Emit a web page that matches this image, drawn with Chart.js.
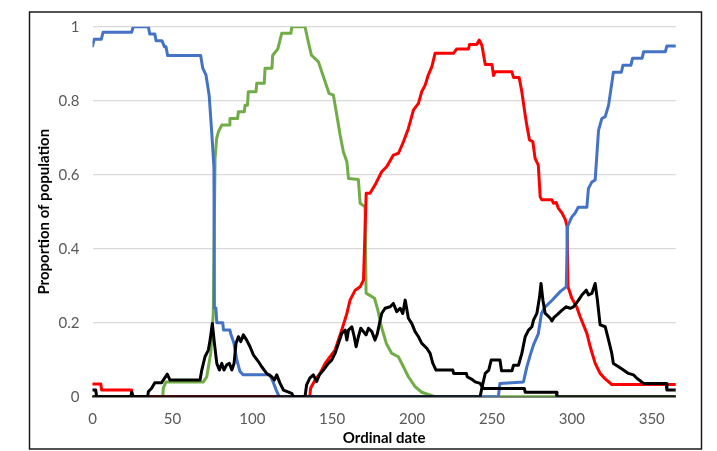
<!DOCTYPE html>
<html>
<head>
<meta charset="utf-8">
<script src="https://cdn.jsdelivr.net/npm/chart.js@4"></script>
<style>
    body { margin: 0; background: #fff; }
    #chart { display: block; }
</style>
</head>
<body>
<canvas id="chart" width="717" height="451"></canvas>
<script>
// Ordinal date (day of year) and proportion of population
const xTicks = [0, 50, 100, 150, 200, 250, 300, 350];
const yTicks = [0, 0.2, 0.4, 0.6, 0.8, 1];

const blueDays = [0, 1, 5.5, 6.6, 24.5, 25.5, 35, 35.8, 39, 39.8, 43.5, 45, 46, 47, 67.7, 69, 71, 73, 74.6, 76,
    76.3, 77.2, 77.8, 81.5, 82, 86, 86.5, 88.5, 90.3, 92.3, 94.4, 111, 113, 115, 116.8, 254, 255, 269.7, 271.8,
    274, 276, 279, 281, 283.3, 287.5, 292.7, 296.5, 297.3, 300, 302, 304, 309.4, 310.4, 312.5, 314.6, 316.7,
    318.8, 320.9, 323, 326, 331, 332, 337, 338, 344, 344.9, 358.5, 359.5, 365];
const blueValues = [0.948, 0.966, 0.966, 0.985, 0.985, 1, 1, 0.98, 0.98, 0.962, 0.962, 0.946, 0.946, 0.922, 0.922, 0.888, 0.87, 0.815, 0.716, 0.62,
    0.24, 0.24, 0.2, 0.2, 0.18, 0.18, 0.17, 0.145, 0.1, 0.068, 0.059, 0.059, 0.04, 0.018, 0, 0, 0.036, 0.04, 0.08,
    0.113, 0.14, 0.17, 0.225, 0.243, 0.26, 0.284, 0.297, 0.46, 0.486, 0.496, 0.512, 0.512, 0.563, 0.58, 0.586, 0.72,
    0.752, 0.757, 0.788, 0.877, 0.877, 0.896, 0.896, 0.915, 0.915, 0.932, 0.932, 0.948, 0.948];

const greenDays = [0, 44, 44.3, 46, 69.4, 71.5, 74, 75.6, 76.7, 77.7, 78.8, 80.9, 85.5, 86, 90.8, 91.3, 95, 95.5, 97, 97.5,
    102.3, 102.8, 107.5, 108, 112.3, 112.8, 116, 118.4, 124.2, 124.7, 133, 135, 137, 141.4, 143.5, 145.6, 148, 150.8,
    152.9, 155, 157, 159.2, 160.2, 166.4, 167.5, 170.6, 171.2, 176.5, 178.6, 180.8, 183.9, 187.3, 191.4, 194.6, 197.7,
    201.9, 206, 214.4, 365];
const greenValues = [0, 0, 0.023, 0.04, 0.04, 0.054, 0.118, 0.226, 0.644, 0.698, 0.716, 0.734, 0.734, 0.752, 0.752, 0.77, 0.77, 0.788, 0.788, 0.824,
    0.824, 0.847, 0.847, 0.888, 0.888, 0.923, 0.94, 0.982, 0.982, 1, 1, 0.96, 0.923, 0.905, 0.878, 0.851, 0.82, 0.815,
    0.761, 0.707, 0.662, 0.635, 0.59, 0.587, 0.523, 0.513, 0.28, 0.266, 0.234, 0.189, 0.144, 0.117, 0.108, 0.081, 0.054,
    0.027, 0.012, 0, 0];

const redDays = [0, 5.2, 5.7, 24.5, 25, 136, 136.5, 139.3, 142.4, 145.6, 148.7, 151.8, 153.9, 156, 159.2, 161.2, 164.4,
    167.5, 169.6, 171.3, 173.7, 176.8, 181, 184.2, 188.3, 191.5, 194.6, 197.7, 200.9, 204, 206, 208.2, 210.2, 212.4,
    214.4, 225.9, 228, 235.3, 236, 240.5, 242, 243.7, 245.8, 250, 251, 252, 262.5, 263.5, 267, 268.7, 270.8, 271.8,
    273.5, 275.6, 277, 279, 280.2, 281.2, 287.5, 288.5, 290.2, 291.6, 293.9, 296, 297, 297.6, 300, 303, 305.2, 309.4,
    311.5, 314.6, 317.7, 320.9, 325, 365];
const redValues = [0.034, 0.034, 0.018, 0.018, 0, 0, 0.023, 0.045, 0.063, 0.09, 0.108, 0.126, 0.153, 0.18, 0.225, 0.261, 0.288,
    0.297, 0.315, 0.55, 0.55, 0.572, 0.608, 0.622, 0.653, 0.658, 0.689, 0.725, 0.775, 0.793, 0.824, 0.842, 0.87, 0.892,
    0.928, 0.928, 0.94, 0.94, 0.952, 0.952, 0.964, 0.95, 0.898, 0.898, 0.868, 0.878, 0.878, 0.863, 0.863, 0.824, 0.761, 0.734,
    0.694, 0.689, 0.644, 0.626, 0.54, 0.532, 0.532, 0.523, 0.525, 0.509, 0.496, 0.478, 0.46, 0.297, 0.266, 0.243, 0.216, 0.171,
    0.135, 0.09, 0.063, 0.048, 0.033, 0.033];

// first black series (spring and summer peaks, then the tail into autumn)
const blackADays = [0, 24, 24.5, 25.5, 34.5, 35, 37, 39, 43.3, 44.3, 46.8, 48.5, 67.3, 68.4, 70.4, 72.5, 73.6, 75, 76.3, 77.8,
    79.4, 80.9, 82.3, 84, 85.7, 87.2, 88.6, 89.8, 91.3, 92.8, 94.4, 96.5, 98.6, 100.7, 103.8, 105.9, 109, 112.2, 113.8,
    115.3, 117.4, 119.5, 124.7, 125.7, 133, 134, 136, 138.2, 140.3, 142, 144.5, 147.6, 149.7, 151.8, 153.9, 156, 158.1,
    159.2, 160.2, 162.3, 163.8, 165, 166.4, 167.9, 169.6, 171.2, 172.7, 174.8, 176.8, 178.3, 179.6, 181, 183.1, 186.3,
    188.3, 190.4, 192.5, 194.2, 195.7, 197.7, 199.8, 201.9, 204, 206.1, 209.2, 211.3, 213, 215, 225.5, 226, 234, 234.5,
    237.5, 239.5, 242.6, 244.7, 270.3, 270.8, 290.2, 290.7, 365];
const blackAValues = [0, 0, 0.012, 0, 0, 0.014, 0.023, 0.038, 0.038, 0.045, 0.061, 0.045, 0.045, 0.072, 0.108, 0.126, 0.153, 0.198, 0.144, 0.09,
    0.072, 0.09, 0.072, 0.086, 0.09, 0.072, 0.09, 0.144, 0.162, 0.149, 0.167, 0.153, 0.135, 0.113, 0.095, 0.081, 0.063, 0.054, 0.045,
    0.059, 0.036, 0.018, 0.009, 0, 0, 0.032, 0.05, 0.059, 0.041, 0.059, 0.072, 0.09, 0.099, 0.117, 0.144, 0.171, 0.18,
    0.153, 0.18, 0.189, 0.162, 0.135, 0.162, 0.185, 0.176, 0.167, 0.185, 0.176, 0.153, 0.171, 0.198, 0.225, 0.239, 0.243,
    0.252, 0.23, 0.239, 0.225, 0.261, 0.212, 0.198, 0.176, 0.162, 0.144, 0.131, 0.117, 0.09, 0.072, 0.072, 0.063, 0.063, 0.054,
    0.047, 0.04, 0.036, 0.022, 0.022, 0.012, 0.012, 0, 0];

// second black series (autumn peak, wrapping round the start of the year)
const blackBDays = [0, 2, 2.6, 242.6, 244, 245.8, 248, 249.5, 255, 256, 262.5, 263.5, 266.6, 268.7, 270.8, 272.9, 275, 276,
    278.1, 279.8, 280.7, 281.9, 283.3, 284.4, 286.5, 287.5, 289, 290.7, 293.9, 296.5, 299, 301, 304.2, 306.3, 309, 310.4,
    312.5, 314.6, 316, 317.7, 320.9, 323, 325, 326, 329.2, 332.3, 335.4, 338.6, 340.7, 344.9, 359, 359.5, 365];
const blackBValues = [0.018, 0.018, 0, 0, 0.03, 0.063, 0.072, 0.099, 0.099, 0.07, 0.07, 0.085, 0.085, 0.117, 0.162, 0.18, 0.189, 0.207,
    0.225, 0.27, 0.306, 0.261, 0.225, 0.221, 0.212, 0.205, 0.215, 0.221, 0.234, 0.243, 0.239, 0.243, 0.261, 0.275, 0.288, 0.275,
    0.279, 0.306, 0.261, 0.194, 0.189, 0.153, 0.117, 0.09, 0.081, 0.072, 0.063, 0.059, 0.05, 0.036, 0.036, 0.018, 0.018];

function toPoints(days, values) {
    return days.map((d, i) => ({ x: d, y: values[i] }));
}

function lineSet(label, days, values, color) {
    return {
        label: label,
        data: toPoints(days, values),
        borderColor: color,
        backgroundColor: color,
        borderWidth: 3,
        borderJoinStyle: 'round',
        borderCapStyle: 'round',
        pointRadius: 0,
        tension: 0,
        fill: false
    };
}

// white page and the thin frame round the whole figure
const framePlugin = {
    id: 'frame',
    beforeDraw(chart) {
        const ctx = chart.ctx;
        ctx.save();
        ctx.fillStyle = '#fff';
        ctx.fillRect(0, 0, chart.width, chart.height);
        ctx.restore();
    },
    afterDraw(chart) {
        const ctx = chart.ctx;
        ctx.save();
        ctx.strokeStyle = '#1a1a1a';
        ctx.lineWidth = 1.5;
        ctx.strokeRect(29.5, 12, 672, 437);
        ctx.restore();
    }
};

const tickFont = { family: 'Lato', size: 15 };
const titleFont = { family: 'Lato', size: 15, weight: 'bold' };

new Chart(document.getElementById('chart'), {
    type: 'line',
    data: {
        datasets: [
            lineSet('Black A', blackADays, blackAValues, '#000000'),
            lineSet('Black B', blackBDays, blackBValues, '#000000'),
            lineSet('Blue', blueDays, blueValues, '#4472C4'),
            lineSet('Red', redDays, redValues, '#FF0000'),
            lineSet('Green', greenDays, greenValues, '#70AD47')
        ]
    },
    options: {
        responsive: false,
        animation: false,
        layout: { padding: { left: 31, right: 41.3, top: 26.7, bottom: 2 } },
        plugins: {
            legend: { display: false },
            tooltip: { enabled: false }
        },
        scales: {
            x: {
                type: 'linear',
                min: 0,
                max: 365,
                afterBuildTicks: (scale) => { scale.ticks = xTicks.map(v => ({ value: v })); },
                afterFit: (scale) => { scale.height = 451 - 2 - 396.7; },
                grid: { display: false, drawTicks: false },
                border: { display: true, color: '#1a1a1a', width: 1.5 },
                ticks: { font: tickFont, color: '#595959', padding: 13, maxRotation: 0 },
                title: { display: true, text: 'Ordinal date', font: titleFont, color: '#000', padding: { top: 0, bottom: 2 } }
            },
            y: {
                min: 0,
                max: 1,
                afterBuildTicks: (scale) => { scale.ticks = yTicks.map(v => ({ value: v })); },
                afterFit: (scale) => { scale.width = 92.5 - 31; },
                grid: { color: '#d9d9d9', lineWidth: 1.3, drawTicks: false },
                border: { display: false },
                ticks: {
                    font: tickFont,
                    color: '#595959',
                    padding: 13,
                    callback: (v) => String(Math.round(v * 10) / 10)
                },
                title: { display: true, text: 'Proportion of population', font: titleFont, color: '#000', padding: { top: 4, bottom: 0 } }
            }
        }
    },
    plugins: [framePlugin]
});
</script>
</body>
</html>
